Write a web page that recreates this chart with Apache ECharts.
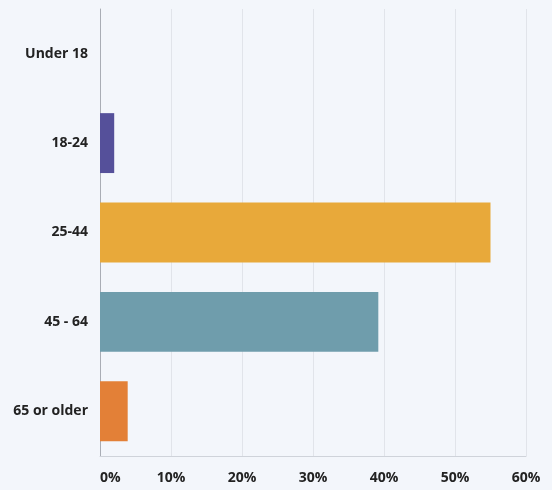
<!DOCTYPE html>
<html><head><meta charset="utf-8">
<script src="https://cdn.jsdelivr.net/npm/echarts@6/dist/echarts.min.js"></script>
<style>html,body{margin:0;padding:0;background:#f3f6fb;}#c{width:552px;height:490px;}</style>
</head><body><div id="c"></div>
<script>
const categories = ["Under 18", "18-24", "25-44", "45 - 64", "65 or older"];
const values = [0, 2, 55, 39.2, 3.9];
const barColors = ["#55509a", "#55509a", "#e8a93a", "#6f9dac", "#e38037"];
const xTicks = [0, 10, 20, 30, 40, 50, 60];

const chart = echarts.init(document.getElementById('c'));
chart.setOption({
  backgroundColor: '#f3f6fb',
  animation: false,
  grid: {left: 100, right: 26, top: 9, bottom: 34, containLabel: false},
  xAxis: {
    type: 'value', min: xTicks[0], max: xTicks[xTicks.length-1], interval: 10,
    axisLine: {show: true, lineStyle: {color: '#cfd3da', width: 1}},
    axisTick: {show: false},
    splitLine: {show: true, lineStyle: {color: '#e1e4ea', width: 1}},
    axisLabel: {formatter: '{value}%', color: '#222', fontFamily: 'Open Sans', fontWeight: 'bold', fontSize: 14, margin: 15, alignMinLabel: 'left'}
  },
  yAxis: {
    type: 'category', data: categories, inverse: true,
    axisLine: {show: true, lineStyle: {color: '#a9adb5', width: 1}},
    axisTick: {show: false},
    axisLabel: {color: '#222', fontFamily: 'Open Sans', fontWeight: 'bold', fontSize: 14, margin: 12}
  },
  series: [{
    type: 'bar', barCategoryGap: '33%',
    data: values.map((v, i) => ({value: v, itemStyle: {color: barColors[i]}}))
  }]
});
</script></body></html>
